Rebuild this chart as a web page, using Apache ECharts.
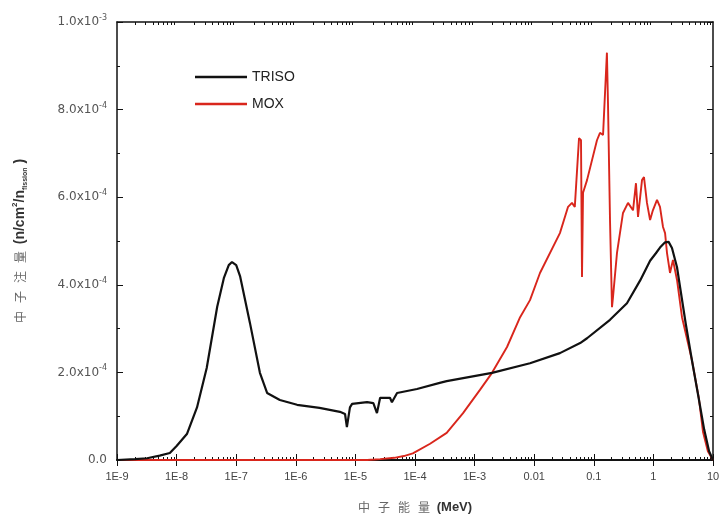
<!DOCTYPE html>
<html>
<head>
<meta charset="utf-8">
<script src="https://cdn.jsdelivr.net/npm/echarts@6/dist/echarts.min.js"></script>
<style>
  html, body { margin: 0; padding: 0; background: #fff; }
  #spectrum { width: 724px; height: 521px; }
</style>
</head>
<body>
<div id="spectrum"></div>
<script>
// neutron spectrum, TRISO vs MOX
var seriesNames = ['TRISO', 'MOX'];

// energy in MeV, flux in units of 1e-4
var trisoE = [1e-9, 2e-9, 3.2e-9, 5.2e-9, 7.7e-9, 1.0e-8, 1.5e-8, 2.2e-8, 3.2e-8, 4.8e-8,
  6.2e-8, 7.5e-8, 8.5e-8, 1.0e-7, 1.16e-7, 1.7e-7, 2.5e-7, 3.3e-7, 5.4e-7, 1.05e-6, 2.5e-6, 5.5e-6,
  6.7e-6, 7.2e-6, 8.1e-6, 8.8e-6, 1.57e-5, 2.0e-5, 2.3e-5, 2.6e-5, 3.8e-5, 4.1e-5,
  5.0e-5, 1.08e-4, 2.6e-4, 3.4e-4, 1.96e-3, 8.5e-3, 0.027, 0.059, 0.077, 0.187,
  0.36, 0.60, 0.88, 1.1, 1.29, 1.57, 1.8, 2.05, 2.49, 2.8, 3.5, 4.4, 5.6, 7.1, 8.6, 10];
var trisoY = [0.0, 0.02, 0.04, 0.1, 0.16, 0.32, 0.6, 1.2, 2.1, 3.5,
  4.15, 4.45, 4.52, 4.45, 4.2, 3.13, 1.99, 1.53, 1.37, 1.26, 1.19, 1.1,
  1.05, 0.75, 1.2, 1.28, 1.32, 1.3, 1.07, 1.42, 1.42, 1.32,
  1.53, 1.62, 1.76, 1.8, 1.99, 2.21, 2.44, 2.67, 2.78, 3.2,
  3.58, 4.1, 4.55, 4.72, 4.85, 4.97, 4.98, 4.84, 4.4, 3.95, 3.1, 2.3, 1.5, 0.7, 0.2, 0.0];

var moxE = [1e-9, 1.57e-5, 2.1e-5, 2.6e-5, 4.5e-5, 6.5e-5, 9.2e-5, 1.79e-4, 3.4e-4, 6.4e-4, 1.23e-3, 1.96e-3,
  3.5e-3, 5.8e-3, 8.5e-3, 0.0125, 0.027, 0.037, 0.043, 0.048, 0.0565, 0.061,
  0.0634, 0.066, 0.077, 0.113, 0.127, 0.143, 0.166, 0.173, 0.187, 0.202,
  0.21, 0.245, 0.309, 0.375, 0.455, 0.51, 0.552, 0.644, 0.695, 0.78,
  0.88, 0.98, 1.15, 1.29, 1.45, 1.57, 1.69, 1.9, 2.13, 2.49,
  3.02, 4.4, 5.8, 6.8, 8.2, 10];
var moxY = [0.0, 0.0, 0.01, 0.02, 0.05, 0.09, 0.15, 0.37, 0.62, 1.07, 1.6, 1.99,
  2.58, 3.26, 3.65, 4.27, 5.18, 5.78, 5.87, 5.78, 7.35, 7.3,
  4.18, 6.1, 6.39, 7.3, 7.47, 7.42, 9.3, 8.15, 5.48, 3.49,
  3.72, 4.73, 5.64, 5.87, 5.7, 6.32, 5.55, 6.39, 6.46, 5.87,
  5.48, 5.7, 5.94, 5.78, 5.32, 5.18, 4.73, 4.27, 4.57, 4.11,
  3.26, 2.3, 1.4, 0.64, 0.2, 0.0];

var xTickLabels = ['1E-9', '1E-8', '1E-7', '1E-6', '1E-5', '1E-4', '1E-3', '0.01', '0.1', '1', '10'];
var yTickLabels = [['0.0', ''], ['2.0x10', '-4'], ['4.0x10', '-4'], ['6.0x10', '-4'], ['8.0x10', '-4'], ['1.0x10', '-3']];

// minor log ticks at 2..9 of each decade
var minorTicks = [];
for (var e = -9; e < 1; e++) {
  for (var m = 2; m <= 9; m++) {
    minorTicks.push(Number((m * Math.pow(10, e)).toPrecision(3)));
  }
}

function zip(xs, ys) {
  return xs.map(function (x, i) { return [x, ys[i]]; });
}

var dom = document.getElementById('spectrum');
var myChart = echarts.init(dom);

var labelFont = 'Liberation Sans, Arial, sans-serif';
var wideFont = 'DejaVu Sans, sans-serif';
var cjkFont = 'Noto Sans CJK SC';
var frame = { show: true, lineStyle: { color: '#111', width: 1.5 } };

function logAxis(pos, labels, ticks, len) {
  var ax = {
    type: 'log',
    logBase: 10,
    min: 1e-9,
    max: 10,
    splitNumber: 10,
    position: pos,
    axisLine: frame,
    splitLine: { show: false },
    axisTick: { show: true, inside: true, length: len, lineStyle: { color: '#111', width: 1 } },
    axisLabel: { show: false }
  };
  if (ticks) ax.axisTick.customValues = ticks;
  if (labels) {
    ax.axisLabel = {
      show: true,
      margin: 11,
      color: '#444',
      fontSize: 11,
      fontFamily: labelFont,
      formatter: function (v) {
        var i = Math.round(Math.log10(v)) + 9;
        return xTickLabels[i];
      }
    };
  }
  return ax;
}

var xBottom = logAxis('bottom', true, null, 6);
xBottom.name = '{c|中   子   能   量}  {e|(MeV)}';
xBottom.nameLocation = 'middle';
xBottom.nameGap = 41;
xBottom.nameTextStyle = {
  rich: {
    c: { fontFamily: cjkFont, fontSize: 12, color: '#666' },
    e: { fontFamily: labelFont, fontSize: 13, fontWeight: 'bold', color: '#333' }
  }
};

var option = {
  animation: false,
  backgroundColor: '#fff',
  grid: { left: 117, right: 11, top: 22, bottom: 61 },
  legend: {
    data: seriesNames,
    orient: 'vertical',
    left: 190,
    top: 65,
    icon: 'rect',
    itemWidth: 52,
    itemHeight: 2.5,
    itemGap: 13,
    textStyle: { fontFamily: labelFont, fontSize: 14, color: '#222' }
  },
  xAxis: [
    xBottom,
    logAxis('top', false, null, 6),
    logAxis('bottom', false, minorTicks, 3),
    logAxis('top', false, minorTicks, 3)
  ],
  yAxis: [
    {
      type: 'value',
      min: 0,
      max: 10,
      interval: 2,
      position: 'left',
      axisLine: frame,
      splitLine: { show: false },
      axisTick: { inside: true, length: 6, lineStyle: { color: '#111' } },
      minorTick: { show: true, splitNumber: 2, length: 3, lineStyle: { color: '#111' } },
      minorSplitLine: { show: false },
      axisLabel: {
        margin: 10,
        formatter: function (v) {
          var t = yTickLabels[Math.round(v / 2)];
          return t[1] ? '{m|' + t[0] + '}{s|' + t[1] + '}' : '{m|' + t[0] + '}';
        },
        rich: {
          m: { fontFamily: wideFont, fontSize: 12, color: '#555', lineHeight: 16 },
          s: { fontFamily: wideFont, fontSize: 8, color: '#555', verticalAlign: 'top', lineHeight: 16 }
        }
      },
      name: '{c|中   子   注   量}  {e|(n/cm}{p|2}{e|/n}{b|fission}{e| )}',
      nameLocation: 'middle',
      nameRotate: 90,
      nameGap: 88,
      nameTextStyle: {
        rich: {
          c: { fontFamily: cjkFont, fontSize: 12, color: '#666', lineHeight: 18 },
          e: { fontFamily: labelFont, fontSize: 14, fontWeight: 'bold', color: '#333', lineHeight: 18 },
          p: { fontFamily: labelFont, fontSize: 8, fontWeight: 'bold', color: '#333', verticalAlign: 'top', lineHeight: 18 },
          b: { fontFamily: labelFont, fontSize: 7, fontWeight: 'bold', color: '#333', verticalAlign: 'bottom', lineHeight: 18 }
        }
      }
    },
    {
      type: 'value',
      min: 0,
      max: 10,
      interval: 2,
      position: 'right',
      axisLine: frame,
      splitLine: { show: false },
      axisTick: { inside: true, length: 6, lineStyle: { color: '#111' } },
      minorTick: { show: true, splitNumber: 2, length: 3, lineStyle: { color: '#111' } },
      minorSplitLine: { show: false },
      axisLabel: { show: false }
    }
  ],
  series: [
    {
      name: 'MOX',
      type: 'line',
      xAxisIndex: 0,
      yAxisIndex: 0,
      symbol: 'none',
      lineStyle: { color: '#d9261c', width: 1.9 },
      itemStyle: { color: '#d9261c' },
      data: zip(moxE, moxY)
    },
    {
      name: 'TRISO',
      type: 'line',
      xAxisIndex: 0,
      yAxisIndex: 0,
      symbol: 'none',
      lineStyle: { color: '#111', width: 2.2 },
      itemStyle: { color: '#111' },
      data: zip(trisoE, trisoY)
    }
  ]
};

if (option && typeof option === 'object') {
  myChart.setOption(option);
}
</script>
</body>
</html>
